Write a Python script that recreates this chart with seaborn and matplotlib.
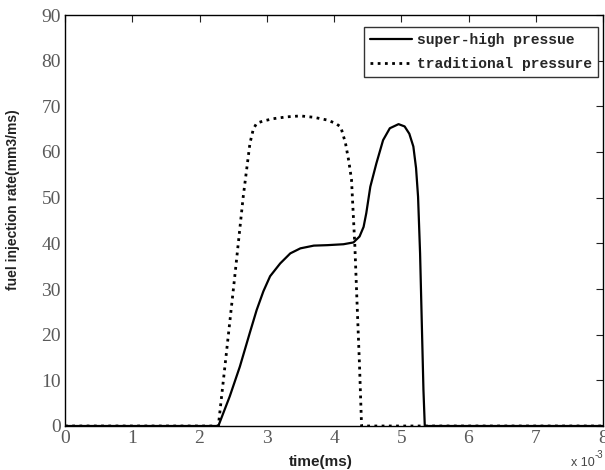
"""Fuel injection rate: super-high vs traditional pressure."""

import matplotlib

matplotlib.use("Agg")
import matplotlib.pyplot as plt
import pandas as pd
import seaborn as sns

# time (ms) and injection rate (mm3/ms)
SUPER_T = [0.0, 2.28, 2.45, 2.60, 2.75, 2.85, 2.95, 3.05, 3.20, 3.35, 3.50, 3.70, 3.90, 4.14,
           4.29, 4.38, 4.44, 4.48, 4.54, 4.63, 4.73, 4.83, 4.96, 5.05, 5.12, 5.18, 5.22,
           5.25, 5.28, 5.33, 5.35, 8.0]
SUPER_Q = [0.0, 0.0, 6.5, 13.0, 20.5, 25.4, 29.5, 32.8, 35.6, 37.8, 38.9, 39.5, 39.6, 39.8,
           40.2, 41.5, 43.6, 46.6, 52.4, 57.5, 62.6, 65.2, 66.1, 65.6, 64.0, 61.2, 56.5,
           50.2, 37.8, 7.9, 0.0, 0.0]

TRAD_T = [0.0, 2.28, 2.40, 2.53, 2.65, 2.75, 2.80, 2.85, 2.95, 3.10, 3.30, 3.50, 3.70,
          3.90, 4.02, 4.10, 4.17, 4.22, 4.26, 4.31, 4.34, 4.38, 4.41, 8.0]
TRAD_Q = [0.0, 0.0, 16.0, 33.5, 50.2, 61.9, 65.0, 66.3, 66.8, 67.3, 67.7, 67.9, 67.6,
          67.0, 66.3, 65.5, 62.0, 58.0, 54.0, 39.5, 28.0, 13.0, 0.0, 0.0]

LEGEND = ["super-high pressue", "traditional pressure"]
XTICKS = list(range(0, 9))
YTICKS = list(range(0, 91, 10))


def main() -> None:
    sns.set_theme(style="white")
    plt.rcParams["font.family"] = ["Liberation Serif", "DejaVu Serif"]

    fig = plt.figure(figsize=(6.05, 4.7), dpi=100)
    ax = fig.add_axes([65 / 605, 1 - 426 / 470, 538 / 605, 411 / 470])

    super_df = pd.DataFrame({"t": SUPER_T, "q": SUPER_Q})
    trad_df = pd.DataFrame({"t": TRAD_T, "q": TRAD_Q})
    sns.lineplot(data=super_df, x="t", y="q", ax=ax, color="black", linewidth=1.6,
                 label=LEGEND[0], sort=False)
    sns.lineplot(data=trad_df, x="t", y="q", ax=ax, color="black", linewidth=2.0,
                 linestyle=(0, (1, 1.6)), label=LEGEND[1], sort=False)

    ax.set_xlim(0, 8)
    ax.set_ylim(0, 90)
    ax.set_xticks(XTICKS)
    ax.set_yticks(YTICKS)
    ax.tick_params(direction="in", length=5, width=0.8, colors="#222222",
                   top=True, right=True, labelsize=14, labelcolor="#5a5a5a", pad=3)
    for s in ax.spines.values():
        s.set_color("black")
        s.set_linewidth(1.0)

    ax.set_xlabel("time(ms)", family=["Liberation Sans", "DejaVu Sans"], fontweight="bold",
                  fontsize=11, color="#222222")
    ax.xaxis.set_label_coords(0.475, -0.07)
    ax.set_ylabel("fuel injection rate(mm3/ms)", family=["Liberation Sans", "DejaVu Sans"],
                  fontweight="bold", fontsize=10, color="#222222")
    ax.yaxis.set_label_coords(-0.083, 0.55)

    fig.text(571 / 605, 1 - 463 / 470, "x 10", family=["Liberation Sans", "DejaVu Sans"],
             fontsize=9, color="#444444", va="center")
    fig.text(595 / 605, 1 - 455 / 470, "-3", family=["Liberation Sans", "DejaVu Sans"],
             fontsize=7, color="#444444", va="center")

    leg = ax.legend(loc="upper right", bbox_to_anchor=(598 / 605, 1 - 27 / 470),
                    bbox_transform=fig.transFigure, frameon=True, fancybox=False,
                    shadow=False, framealpha=1, edgecolor="#333333", handlelength=2.9,
                    handletextpad=0.35, borderpad=0.4, labelspacing=0.7, borderaxespad=0,
                    prop={"family": ["Liberation Mono", "DejaVu Sans Mono"],
                          "weight": "bold", "size": 10.5})
    leg.get_frame().set_linewidth(1.0)

    fig.savefig("out.png", dpi=100)
    plt.close(fig)


if __name__ == "__main__":
    main()
